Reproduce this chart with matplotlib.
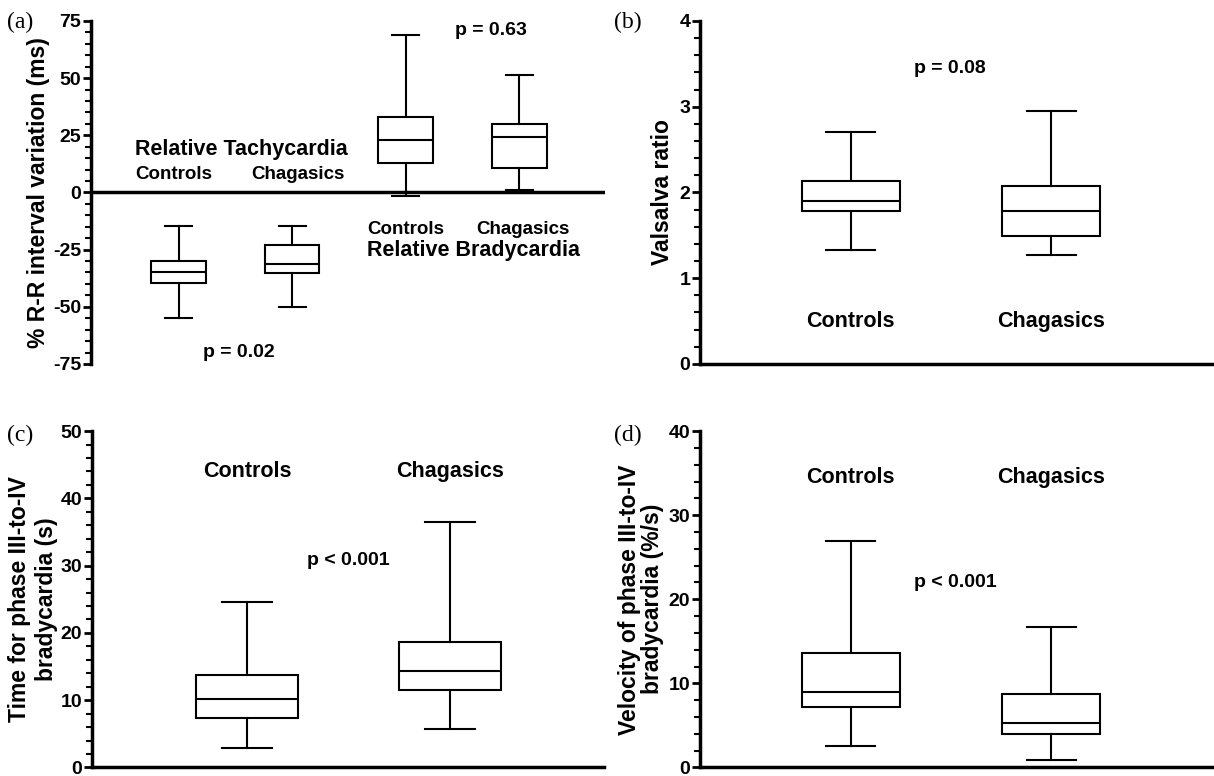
import matplotlib.pyplot as plt
from matplotlib.ticker import MultipleLocator

plt.rcParams['font.family'] = ['Liberation Sans', 'DejaVu Sans']
plt.rcParams['font.weight'] = 'bold'
plt.rcParams['axes.labelweight'] = 'bold'
plt.rcParams['axes.unicode_minus'] = False

# whisker low, Q1, median, Q3, whisker high
tachy_ctrl = [-54.7, -39.7, -34.9, -29.9, -14.6]
tachy_chag = [-50.3, -35.1, -31.5, -23.1, -14.6]
brady_ctrl = [-1.5, 12.9, 22.9, 33.1, 68.8]
brady_chag = [0.9, 10.7, 24.3, 30.1, 51.3]
valsalva_ctrl = [1.33, 1.78, 1.90, 2.13, 2.71]
valsalva_chag = [1.27, 1.49, 1.78, 2.08, 2.95]
time_ctrl = [2.95, 7.3, 10.2, 13.7, 24.65]
time_chag = [5.66, 11.5, 14.3, 18.7, 36.5]
vel_ctrl = [2.56, 7.2, 8.98, 13.6, 26.97]
vel_chag = [0.87, 3.94, 5.31, 8.78, 16.65]

groups = ['Controls', 'Chagasics']


def stats(v, label):
    return dict(whislo=v[0], q1=v[1], med=v[2], q3=v[3], whishi=v[4], fliers=[], label=label)


def draw_boxes(ax, data, positions, width):
    lw = 1.5
    ax.bxp([stats(v, l) for v, l in zip(data, groups * 2)], positions=positions, widths=width,
           showfliers=False, patch_artist=True,
           boxprops=dict(facecolor='white', edgecolor='black', linewidth=lw),
           medianprops=dict(color='black', linewidth=lw),
           whiskerprops=dict(color='black', linewidth=lw),
           capprops=dict(color='black', linewidth=lw))
    ax.set_xticks([])


def style_axis(ax, major, minor, bottom=True):
    for s in ['top', 'right']:
        ax.spines[s].set_visible(False)
    ax.spines['left'].set_linewidth(2.5)
    ax.spines['bottom'].set_linewidth(2.5)
    ax.spines['bottom'].set_visible(bottom)
    ax.yaxis.set_major_locator(MultipleLocator(major))
    ax.yaxis.set_minor_locator(MultipleLocator(minor))
    ax.tick_params(axis='y', which='major', length=6, width=2, pad=1, labelsize=14)
    ax.tick_params(axis='y', which='minor', length=4, width=1.5)
    ax.tick_params(axis='x', length=0)


fig = plt.figure(figsize=(12.14, 7.76), dpi=100)
ax_a = fig.add_axes([0.075, 0.531, 0.423, 0.442])
ax_b = fig.add_axes([0.5766, 0.531, 0.4226, 0.442])
ax_c = fig.add_axes([0.0758, 0.011, 0.422, 0.4335])
ax_d = fig.add_axes([0.5766, 0.011, 0.4226, 0.4335])

# (a)
draw_boxes(ax_a, [tachy_ctrl, tachy_chag, brady_ctrl, brady_chag], [1, 2, 3, 4], 0.48)
ax_a.axhline(0, color='black', linewidth=2.5)
ax_a.set_xlim(0.23, 4.75)
ax_a.set_ylim(-75, 75)
style_axis(ax_a, 25, 5, bottom=False)
ax_a.set_ylabel('% R-R interval variation (ms)', fontsize=16.5, labelpad=2)
ax_a.text(1.55, 19, 'Relative Tachycardia', fontsize=15.5, ha='center', va='center')
ax_a.text(0.96, 8, 'Controls', fontsize=13.5, ha='center', va='center')
ax_a.text(2.05, 8, 'Chagasics', fontsize=13.5, ha='center', va='center')
ax_a.text(3.0, -16.3, 'Controls', fontsize=13.5, ha='center', va='center')
ax_a.text(4.03, -16.3, 'Chagasics', fontsize=13.5, ha='center', va='center')
ax_a.text(3.6, -25.2, 'Relative Bradycardia', fontsize=15.5, ha='center', va='center')
ax_a.text(3.75, 70.7, 'p = 0.63', fontsize=14, ha='center', va='center')
ax_a.text(1.53, -69.8, 'p = 0.02', fontsize=14, ha='center', va='center')

# (b)
draw_boxes(ax_b, [valsalva_ctrl, valsalva_chag], [1, 2], 0.49)
ax_b.set_xlim(0.249, 2.806)
ax_b.set_ylim(0, 4)
style_axis(ax_b, 1, 0.2)
ax_b.set_ylabel('Valsalva ratio', fontsize=16.5, labelpad=4)
ax_b.text(1, 0.49, 'Controls', fontsize=15.5, ha='center', va='center')
ax_b.text(2, 0.49, 'Chagasics', fontsize=15.5, ha='center', va='center')
ax_b.text(1.495, 3.44, 'p = 0.08', fontsize=14, ha='center', va='center')

# (c)
draw_boxes(ax_c, [time_ctrl, time_chag], [1, 2], 0.5)
ax_c.set_xlim(0.236, 2.76)
ax_c.set_ylim(0, 50)
style_axis(ax_c, 10, 2)
ax_c.set_ylabel('Time for phase III-to-IV\nbradycardia (s)', fontsize=16.5, labelpad=2)
ax_c.text(1, 44.0, 'Controls', fontsize=15.5, ha='center', va='center')
ax_c.text(2, 44.0, 'Chagasics', fontsize=15.5, ha='center', va='center')
ax_c.text(1.5, 30.8, 'p < 0.001', fontsize=14, ha='center', va='center')

# (d)
draw_boxes(ax_d, [vel_ctrl, vel_chag], [1, 2], 0.49)
ax_d.set_xlim(0.249, 2.806)
ax_d.set_ylim(0, 40)
style_axis(ax_d, 10, 2)
ax_d.set_ylabel('Velocity of phase III-to-IV\nbradycardia (%/s)', fontsize=16.5, labelpad=3,
                linespacing=1.0)
ax_d.text(1, 34.5, 'Controls', fontsize=15.5, ha='center', va='center')
ax_d.text(2, 34.5, 'Chagasics', fontsize=15.5, ha='center', va='center')
ax_d.text(1.52, 22.0, 'p < 0.001', fontsize=14, ha='center', va='center')

for lbl, (x, y) in zip(['(a)', '(b)', '(c)', '(d)'],
                       [(20, 22), (628, 22), (20, 435), (628, 435)]):
    fig.text(x / 1214, 1 - y / 776, lbl, fontsize=17, fontweight='normal',
             family='Liberation Serif', ha='center', va='center')

fig.savefig('out.png', dpi=100)
